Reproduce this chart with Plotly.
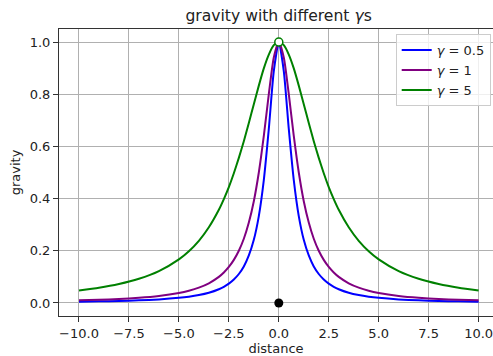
import plotly.graph_objects as go

# distance values (x)
distance = [-10, -9, -8, -7, -6, -5, -4.5, -4, -3.5, -3, -2.75, -2.5, -2.25, -2,
            -1.75, -1.5, -1.25, -1, -0.75, -0.5, -0.25, 0,
            0.25, 0.5, 0.75, 1, 1.25, 1.5, 1.75, 2, 2.25, 2.5, 2.75, 3,
            3.5, 4, 4.5, 5, 6, 7, 8, 9, 10]

# gravity, gamma = 0.5
gravity_g05 = [0.005, 0.0061, 0.0078, 0.0101, 0.0137, 0.0196, 0.0241, 0.0303, 0.0392, 0.0526,
               0.062, 0.0741, 0.0899, 0.111, 0.140, 0.182, 0.242, 0.333, 0.471, 0.667, 0.889, 1.0,
               0.889, 0.667, 0.471, 0.333, 0.242, 0.182, 0.140, 0.111, 0.0899, 0.0741, 0.062, 0.0526,
               0.0392, 0.0303, 0.0241, 0.0196, 0.0137, 0.0101, 0.0078, 0.0061, 0.005]

# gravity, gamma = 1
gravity_g1 = [0.0099, 0.0122, 0.0154, 0.020, 0.027, 0.0385, 0.0471, 0.0588, 0.0755, 0.100,
              0.1168, 0.138, 0.165, 0.200, 0.246, 0.308, 0.390, 0.500, 0.640, 0.800, 0.941, 1.0,
              0.941, 0.800, 0.640, 0.500, 0.390, 0.308, 0.246, 0.200, 0.165, 0.138, 0.1168, 0.100,
              0.0755, 0.0588, 0.0471, 0.0385, 0.027, 0.020, 0.0154, 0.0122, 0.0099]

# gravity, gamma = 5
gravity_g5 = [0.0476, 0.0581, 0.0725, 0.0926, 0.122, 0.167, 0.198, 0.238, 0.290, 0.357,
              0.398, 0.444, 0.497, 0.556, 0.620, 0.690, 0.762, 0.833, 0.899, 0.952, 0.988, 1.0,
              0.988, 0.952, 0.899, 0.833, 0.762, 0.690, 0.620, 0.556, 0.497, 0.444, 0.398, 0.357,
              0.290, 0.238, 0.198, 0.167, 0.122, 0.0926, 0.0725, 0.0581, 0.0476]

series_names = ["<i>γ</i> = 0.5", "<i>γ</i> = 1", "<i>γ</i> = 5"]
series_colors = ["#0000ff", "#800080", "#008000"]

point_black = ([0], [0])
point_open = ([0], [1])

x_ticks = [-10, -7.5, -5, -2.5, 0, 2.5, 5, 7.5, 10]
y_ticks = [0.0, 0.2, 0.4, 0.6, 0.8, 1.0]

FONT = "DejaVu Sans"

fig = go.Figure()
for i, (ys, name, col) in enumerate(zip([gravity_g05, gravity_g1, gravity_g5], series_names, series_colors)):
    fig.add_trace(go.Scatter(x=distance, y=ys, mode="lines", name=name,
                             line=dict(color=col, width=2, shape="spline", smoothing=0.6)))

fig.add_trace(go.Scatter(x=point_black[0], y=point_black[1], mode="markers", showlegend=False,
                         marker=dict(color="black", size=9, line=dict(width=0))))
fig.add_trace(go.Scatter(x=point_open[0], y=point_open[1], mode="markers", showlegend=False,
                         marker=dict(color="white", size=8, line=dict(color="#008000", width=1.5))))

axis_common = dict(
    showgrid=True, gridcolor="#b0b0b0", gridwidth=1,
    zeroline=False, showline=True, linecolor="#333333", linewidth=1,
    ticks="outside", ticklen=5, tickwidth=1, tickcolor="#333333",
    tickfont=dict(family=FONT, size=13, color="#222222"),
    automargin=False, ticklabeloverflow="allow",
)

fig.update_layout(
    width=493, height=356,
    margin=dict(l=59, r=0, t=29, b=40, autoexpand=False),
    paper_bgcolor="white", plot_bgcolor="white",
    font=dict(family=FONT, size=13, color="#222222"),
    title=dict(text="gravity with different <i>γ</i>s", x=0.506, xref="paper",
               y=1 - 16 / 356, yref="container", xanchor="center", yanchor="middle",
               font=dict(family=FONT, size=15.6, color="#222222")),
    xaxis=dict(range=[-11, 10.72], tickvals=x_ticks, tickformat=".1f", mirror=True,
               title=dict(text="distance", standoff=4, font=dict(family=FONT, size=13)),
               **axis_common),
    yaxis=dict(range=[-0.05, 1.05], tickvals=y_ticks, tickformat=".1f", mirror=False,
               title=dict(text="gravity", standoff=6, font=dict(family=FONT, size=13)),
               **axis_common),
    legend=dict(x=0.9947, y=0.982, xanchor="right", yanchor="top",
                bgcolor="rgba(255,255,255,0.8)", bordercolor="#cccccc", borderwidth=1,
                font=dict(family=FONT, size=13), tracegroupgap=0, itemwidth=30),
    showlegend=True,
)

fig.write_html("out.html", config={"displayModeBar": False},
               post_script="document.body.style.margin='0';document.body.style.overflow='hidden';")
